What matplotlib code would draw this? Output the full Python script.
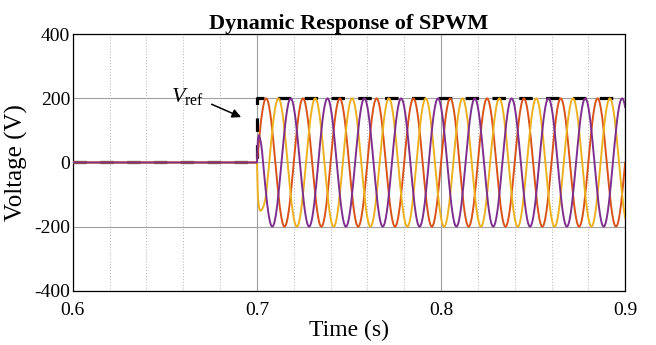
import numpy as np
import matplotlib.pyplot as plt
from matplotlib.ticker import MultipleLocator

plt.rcParams['font.family'] = 'Liberation Serif'
plt.rcParams['mathtext.fontset'] = 'custom'
plt.rcParams['mathtext.rm'] = 'Liberation Serif'
plt.rcParams['mathtext.it'] = 'Liberation Serif:italic'
plt.rcParams['axes.unicode_minus'] = False

# one steady cycle of the phase voltage, read every 10 degrees (V)
cycle = [0, 35, 68, 100, 129, 153, 173, 188, 197, 200, 197, 188, 173, 153, 129, 100, 68, 35,
         0, -35, -68, -100, -129, -153, -173, -188, -197, -200, -197, -188, -173, -153, -129, -100, -68, -35]
# first samples after the step (transient), every 10 degrees
yellow_head = [0, -110, -140, -150, -150, -146, -140, -130, -117]
purple_head = [0, 75, 85, 75, 60]

t_step = 0.7
period = 0.02
n_cycles = 10
t_start = 0.6
t_end = 0.9
ref_level = 200

dt = period / len(cycle)
n = len(cycle) * n_cycles + 1
t = t_step + np.arange(n) * dt

orange = np.tile(cycle, n_cycles + 1)[:n].astype(float)
purple = np.tile(np.roll(cycle, -12), n_cycles + 1)[:n].astype(float)
yellow = np.tile(np.roll(cycle, 12), n_cycles + 1)[:n].astype(float)
purple[:len(purple_head)] = purple_head
yellow[:len(yellow_head)] = yellow_head

# zero section before the step
t = np.concatenate([[t_start], t])
orange = np.concatenate([[0], orange])
purple = np.concatenate([[0], purple])
yellow = np.concatenate([[0], yellow])

ref_t = [t_start, t_step, t_step, t_end]
ref_v = [0, 0, ref_level, ref_level]

fig = plt.figure(figsize=(6.56, 3.45), dpi=100)
ax = fig.add_axes([0.111, 0.157, 0.842, 0.744])

ax.plot(ref_t, ref_v, color='black', lw=2.3, dashes=(4.2, 4.2), zorder=2)
ax.plot(t, orange, color='#D95319', lw=1.4, zorder=3)
ax.plot(t, yellow, color='#EDB120', lw=1.4, zorder=3)
ax.plot(t, purple, color='#7E2F8E', lw=1.4, zorder=3)

ax.set_xlim(t_start, t_end)
ax.set_ylim(-400, 400)
ax.set_xticks([0.6, 0.7, 0.8, 0.9])
ax.set_xticklabels(['0.6', '0.7', '0.8', '0.9'])
ax.set_yticks([-400, -200, 0, 200, 400])
ax.xaxis.set_minor_locator(MultipleLocator(0.02))
ax.grid(True, which='major', color='#a0a0a0', lw=0.8)
ax.grid(True, which='minor', axis='x', color='#b0b0b0', lw=0.7, ls=(0, (1, 2)))
ax.set_axisbelow(True)
ax.tick_params(which='both', direction='in', length=0, labelsize=14)
ax.tick_params(axis='x', pad=8)
ax.tick_params(axis='y', pad=2)
for s in ax.spines.values():
    s.set_linewidth(0.9)

ax.set_xlabel('Time (s)', fontsize=17, labelpad=1)
ax.set_ylabel('Voltage (V)', fontsize=18, labelpad=4)
ax.set_title('Dynamic Response of SPWM', fontsize=16, fontweight='bold', pad=3)

ax.text(0.6535, 190, r'$V_{\mathrm{ref}}$', fontsize=16, ha='left', va='baseline')
ax.annotate('', xy=(0.6928, 138), xytext=(0.674, 185),
            arrowprops=dict(arrowstyle='-|>', color='black', lw=1.1, mutation_scale=13))

fig.savefig('out.png', dpi=100)
